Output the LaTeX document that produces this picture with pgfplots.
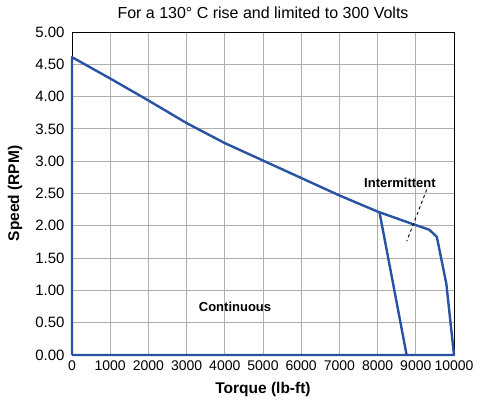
\documentclass[border=0pt]{standalone}
\usepackage{fontspec}
\setmainfont{Liberation Sans}
\usepackage{pgfplots}
\pgfplotsset{compat=1.18}
\definecolor{curveblue}{RGB}{40,82,162}
\definecolor{gridgray}{RGB}{175,175,175}
\begin{document}
\begin{tikzpicture}
\begin{axis}[
  scale only axis,
  width=382pt, height=323pt,
  xmin=0, xmax=10000, ymin=0, ymax=5,
  xtick={0,1000,...,10000},
  ytick={0,0.5,...,5},
  scaled x ticks=false,
  grid=major,
  major grid style={gridgray, line width=0.9pt},
  major tick length=0pt,
  axis line style={black, line width=0.9pt},
  clip=false,
  /pgf/number format/assume math mode=true,
  x tick label style={/pgf/number format/set thousands separator={}, /pgf/number format/fixed, /pgf/number format/precision=0, yshift=-2pt, font=\fontsize{14}{16}\selectfont},
  y tick label style={/pgf/number format/fixed, /pgf/number format/fixed zerofill, /pgf/number format/precision=2, xshift=-4pt, font=\fontsize{15}{17}\selectfont},
  xlabel={\bfseries Torque (lb-ft)},
  ylabel={\bfseries Speed (RPM)},
  label style={font=\fontsize{15.5}{17}\selectfont},
  xlabel style={at={(axis description cs:0.5,0)}, anchor=center, yshift=-34pt},
  ylabel style={at={(axis description cs:0,0.5)}, anchor=center, yshift=57pt},
  title={For a 130\textdegree{} C rise and limited to 300 Volts},
  title style={font=\fontsize{16}{18}\selectfont, at={(axis description cs:0.5,1)}, anchor=center, yshift=13pt},
]
\addplot[curveblue, line width=2.4pt, line join=round] coordinates {
  (0,0) (0,4.61) (1000,4.28) (2000,3.94) (3000,3.59) (4000,3.28)
  (5000,3.01) (6000,2.74) (7000,2.47) (8000,2.22) (9000,2.01)
  (9350,1.94) (9550,1.83) (9800,1.10) (10000,0) (0,0)
};
\addplot[curveblue, line width=2.4pt] coordinates {(8050,2.21) (8760,0)};
\addplot[black, dashed, line width=0.9pt] coordinates {(9285,2.56) (8761,1.76)};
\node[font=\fontsize{13}{15}\selectfont\bfseries] at (axis cs:8586,2.67) {Intermittent};
\node[font=\fontsize{13}{15}\selectfont\bfseries] at (axis cs:4267,0.74) {Continuous};
\end{axis}
\useasboundingbox ([xshift=-72pt,yshift=-44pt]current axis.south west) rectangle ([xshift=35pt,yshift=32pt]current axis.north east);
\end{tikzpicture}
\end{document}
